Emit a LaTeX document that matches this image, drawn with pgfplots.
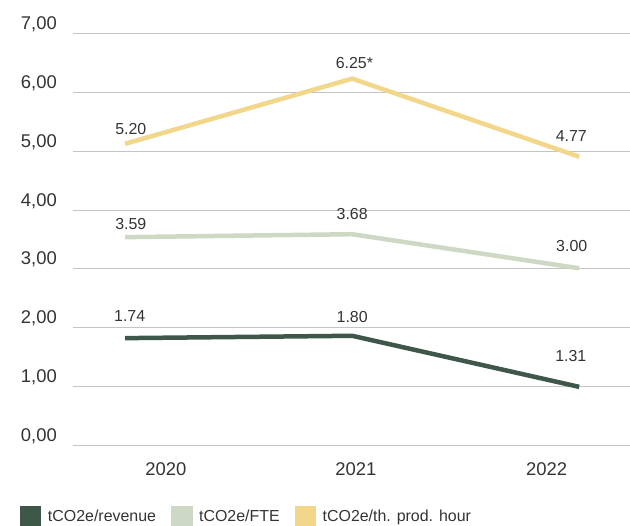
\documentclass[border=0pt]{standalone}
\usepackage{fontspec}
\setmainfont{Liberation Sans}
\usepackage{pgfplots}
\pgfplotsset{compat=1.18}
\definecolor{revc}{HTML}{3F5748}
\definecolor{ftec}{HTML}{CDD9C5}
\definecolor{prodc}{HTML}{F2D68A}
\definecolor{gridc}{HTML}{C4C4C4}
\definecolor{txtc}{HTML}{333333}
\begin{document}
\begin{tikzpicture}
\useasboundingbox (-73bp,-81bp) rectangle (557bp,445bp);
\begin{axis}[
  scale only axis,
  width=557bp, height=411bp,
  xmin=-0.2295, xmax=2.2236,
  ymin=0, ymax=7,
  axis line style={draw=none},
  major tick length=0pt,
  ytick={0,1,2,3,4,5,6,7},
  yticklabels={{0,00},{1,00},{2,00},{3,00},{4,00},{5,00},{6,00},{7,00}},
  xtick={0.18,1.016,1.856},
  xticklabels={2020,2021,2022},
  ymajorgrids,
  grid style={gridc, line width=1bp},
  yticklabel style={anchor=base east, inner sep=0pt, xshift=-16bp, yshift=4bp, font=\fontsize{18.5}{20}\selectfont, text=txtc},
  xticklabel style={anchor=base, inner sep=0pt, yshift=-30.5bp, font=\fontsize{18.5}{20}\selectfont, text=txtc},
  legend image code/.code={\fill[#1] (0bp,-8bp) rectangle (17bp,8bp);},
  legend style={draw=none, fill=none, inner sep=0pt, outer sep=0pt,
    at={(axis description cs:-0.0952,-0.1727)}, anchor=west,
    font=\fontsize{16}{18}\selectfont, text=txtc,
    cells={anchor=west},
    nodes={inner sep=0pt},
    /tikz/every odd column/.append style={column sep=6.5bp},
    /tikz/every even column/.append style={column sep=15bp}},
  legend columns=3,
  clip=false,
]
\addplot[revc, line width=4.5bp, line join=miter, line cap=butt] coordinates {(0,1.82) (1,1.86) (2,0.99)};
\addlegendentry{tCO2e/revenue}
\addplot[ftec, line width=4.5bp, line join=miter, line cap=butt] coordinates {(0,3.54) (1,3.59) (2,3.01)};
\addlegendentry{tCO2e/FTE}
\addplot[prodc, line width=4.5bp, line join=miter, line cap=butt] coordinates {(0,5.13) (1,6.24) (2,4.91)};
\addlegendentry{tCO2e/th. prod. hour}
\begin{scope}[every node/.style={font=\fontsize{16}{18}\selectfont, text=txtc, inner sep=0pt}]
\node at (axis cs:0.025,5.38) {5.20};
\node at (axis cs:1.01,6.51) {6.25*};
\node at (axis cs:1.965,5.27) {4.77};
\node at (axis cs:0.025,3.76) {3.59};
\node at (axis cs:1.0,3.93) {3.68};
\node at (axis cs:1.967,3.39) {3.00};
\node at (axis cs:0.02,2.20) {1.74};
\node at (axis cs:1.0,2.185) {1.80};
\node at (axis cs:1.963,1.516) {1.31};
\end{scope}
\end{axis}
\end{tikzpicture}
\end{document}
